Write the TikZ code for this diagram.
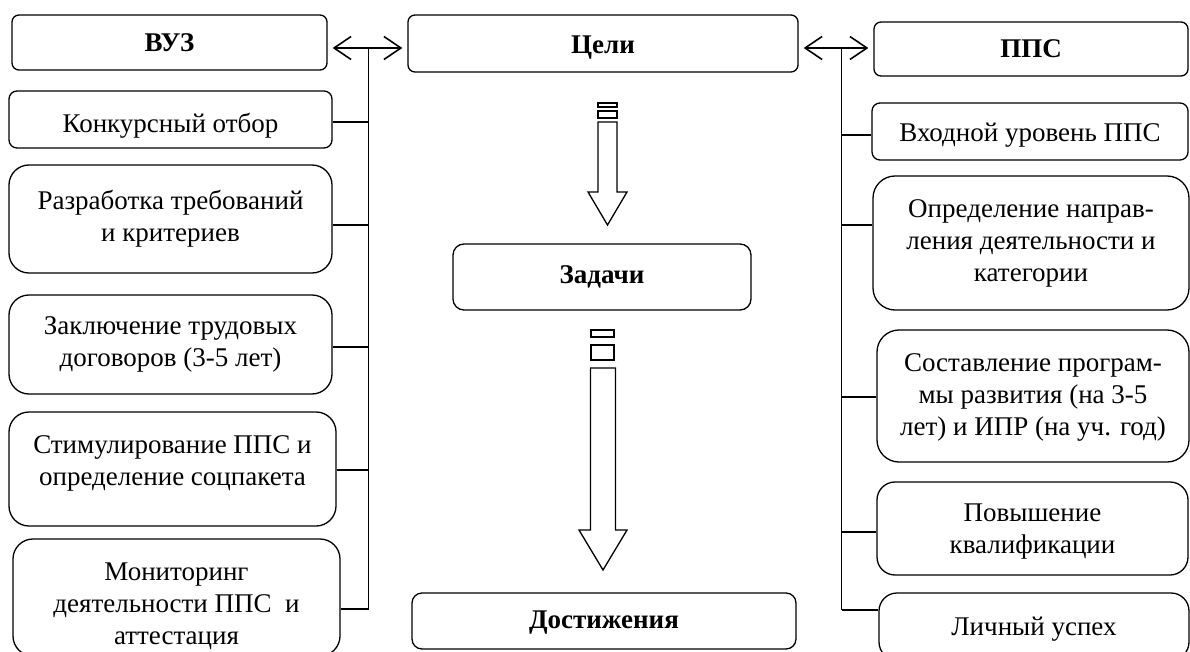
\documentclass[tikz,border=0pt]{standalone}
\usepackage{fontspec}
\setmainfont{Liberation Serif}
\usetikzlibrary{arrows.meta}
\begin{document}
\begin{tikzpicture}[x=1pt,y=-1pt,
  box/.style={draw=black, line width=1.3pt, inner sep=0pt},
  txt/.style={inner sep=0pt, align=center, font=\fontsize{27}{32}\selectfont},
  htxt/.style={txt, font=\fontsize{27}{32}\selectfont\bfseries},
  conn/.style={draw=black, line width=1.1pt},
  biarrow/.style={draw=black, line width=1.6pt, {Straight Barb[length=17pt,width=23pt]}-{Straight Barb[length=17pt,width=23pt]}, shorten <=5pt, shorten >=5pt},
  block/.style={draw=black, line width=1.3pt, fill=white, line join=miter}
]
\useasboundingbox (0,0) rectangle (1190,652);
% left column
\node[box, minimum width=315pt, minimum height=55pt, rounded corners=7pt] (vuz) at (169.5,42.5) {};
\node[htxt] (vuzt) at (vuz.center) {ВУЗ};
\node[box, minimum width=323pt, minimum height=57pt, rounded corners=8pt] (k1) at (170.5,119.5) {};
\node[txt] (k1t) at ([yshift=-6pt]k1.center) {Конкурсный отбор};
\node[box, minimum width=323pt, minimum height=108pt, rounded corners=20pt] (k2) at (170.5,219) {};
\node[txt] (k2t) at (k2.center) {Разработка требований\\и критериев};
\node[box, minimum width=323pt, minimum height=99pt, rounded corners=20pt] (k3) at (170.5,344.5) {};
\node[txt] (k3t) at (k3.center) {Заключение трудовых\\договоров (3-5 лет)};
\node[box, minimum width=327pt, minimum height=114pt, rounded corners=20pt] (k4) at (172.5,469) {};
\node[txt] (k4t) at ([yshift=6pt]k4.center) {Стимулирование ППС и\\определение соцпакета};
\node[box, minimum width=327pt, minimum height=117pt, rounded corners=20pt] (k5) at (176.5,597.5) {};
\node[txt] (k5t) at ([yshift=-9pt]k5.center) {Мониторинг\\деятельности ППС~ и\\аттестация};
% center column
\node[box, minimum width=390pt, minimum height=57pt, rounded corners=7pt] (celi) at (603,43.5) {};
\node[htxt] (celit) at ([yshift=-4pt]celi.center) {Цели};
\node[box, minimum width=298pt, minimum height=66pt, rounded corners=11pt] (zad) at (602,277) {};
\node[htxt] (zadt) at (zad.center) {Задачи};
\node[box, minimum width=384pt, minimum height=56pt, rounded corners=10pt] (dost) at (604,621) {};
\node[htxt] (dostt) at ([yshift=-2pt]dost.center) {Достижения};
% right column
\node[box, minimum width=314pt, minimum height=54pt, rounded corners=7pt] (pps) at (1031,49) {};
\node[htxt] (ppst) at (pps.center) {ППС};
\node[box, minimum width=316pt, minimum height=57pt, rounded corners=8pt] (p1) at (1030,131.5) {};
\node[txt] (p1t) at ([yshift=-4pt]p1.center) {Входной уровень ППС};
\node[box, minimum width=316pt, minimum height=134pt, rounded corners=22pt] (p2) at (1031,243) {};
\node[txt] (p2t) at (p2.center) {Определение направ-\\ления деятельности и\\категории};
\node[box, minimum width=312pt, minimum height=132pt, rounded corners=22pt] (p3) at (1033,396) {};
\node[txt] (p3t) at ([yshift=-1pt]p3.center) {Составление програм-\\мы развития (на 3-5\\лет) и ИПР (на уч. год)};
\node[box, minimum width=311pt, minimum height=93pt, rounded corners=18pt] (p4) at (1032.5,528.5) {};
\node[txt] (p4t) at ([yshift=-3pt]p4.center) {Повышение\\квалификации};
\node[box, minimum width=310pt, minimum height=67pt, rounded corners=18pt] (p5) at (1034,626.5) {};
\node[txt] (p5t) at ([yshift=-3pt]p5.center) {Личный успех};
% double arrows
\coordinate (aL) at (0,48);
\draw[biarrow] (vuz.east |- aL) -- (celi.west |- aL);
\draw[biarrow] (celi.east |- aL) -- (pps.west |- aL);
% left trunk
\coordinate (lt) at (368.5,48);
\coordinate (lb) at (368.5,609);
\draw[conn] (lt) -- (lb);
\draw[conn] (k1.east |- 0,122) -- (lt |- 0,122);
\draw[conn] (k2.east |- 0,225) -- (lt |- 0,225);
\draw[conn] (k3.east |- 0,347) -- (lt |- 0,347);
\draw[conn] (k4.east |- 0,470) -- (lt |- 0,470);
\draw[conn] (k5.east |- lb) -- (lb);
% right trunk
\coordinate (rt) at (841.5,48);
\coordinate (rb) at (841.5,610);
\draw[conn] (rt) -- (rb);
\draw[conn] (p1.west |- 0,135) -- (rt |- 0,135);
\draw[conn] (p2.west |- 0,225) -- (rt |- 0,225);
\draw[conn] (p3.west |- 0,397) -- (rt |- 0,397);
\draw[conn] (p4.west |- 0,532) -- (rt |- 0,532);
\draw[conn] (p5.west |- rb) -- (rb);
% striped block arrow 1
\draw[block] (598,103) rectangle (617,107);
\draw[block] (598,111) rectangle (617,118);
\draw[block] (598,122) -- (617,122) -- (617,192) -- (627,192) -- (607.5,225) -- (588,192) -- (598,192) -- cycle;
% striped block arrow 2
\draw[block] (591,330) rectangle (614,337);
\draw[block] (591,345) rectangle (614,360);
\draw[block] (590.5,368) -- (615.5,368) -- (615.5,530) -- (627,530) -- (603,570) -- (579,530) -- (590.5,530) -- cycle;
\end{tikzpicture}
\end{document}
